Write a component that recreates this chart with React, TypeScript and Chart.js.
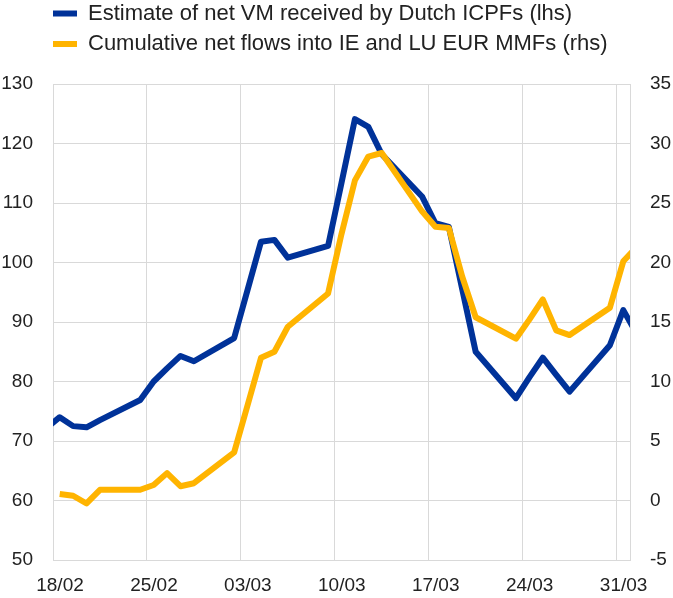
import React, { useEffect, useRef } from 'react';
import { Chart, registerables } from 'chart.js';

Chart.register(...registerables);

// Business days (dd/mm, 2020)
const dates = [
  '17/02', '18/02', '19/02', '20/02', '21/02',
  '24/02', '25/02', '26/02', '27/02', '28/02',
  '02/03', '03/03', '04/03', '05/03', '06/03',
  '09/03', '10/03', '11/03', '12/03', '13/03',
  '16/03', '17/03', '18/03', '19/03', '20/03',
  '23/03', '24/03', '25/03', '26/03', '27/03',
  '30/03', '31/03', '01/04',
];

// Estimate of net VM received by Dutch ICPFs (lhs)
const netVM = [
  72.2, 74.0, 72.5, 72.3, 73.5,
  76.9, 80.0, 82.2, 84.3, 83.4,
  87.3, 95.4, 103.5, 103.8, 100.8,
  102.8, 113.4, 124.1, 122.8, 118.2,
  111.1, 106.6, 106.0, 95.5, 85.0,
  77.2, 80.7, 84.0, 81.1, 78.3,
  86.1, 92.0, 88.0,
];

// Cumulative net flows into IE and LU EUR MMFs (rhs)
const mmfFlows: (number | null)[] = [
  null, 0.55, 0.4, -0.25, 0.9,
  0.9, 1.3, 2.3, 1.2, 1.45,
  4.05, 8.0, 12.0, 12.5, 14.6,
  17.4, 22.4, 26.9, 28.9, 29.2,
  24.3, 23.0, 22.9, 18.8, 15.4,
  13.6, 15.2, 16.9, 14.3, 13.9,
  16.2, 20.1, 21.3,
];

const seriesLabels = [
  'Estimate of net VM received by Dutch ICPFs (lhs)',
  'Cumulative net flows into IE and LU EUR MMFs (rhs)',
];

const xTickLabels = ['18/02', '25/02', '03/03', '10/03', '17/03', '24/03', '31/03'];
const xRangeLabels = ['18/02', '01/04'];
const leftAxis = { min: 50, max: 130, step: 10 };
const rightAxis = { min: -5, max: 35, step: 5 };

const BLUE = '#003299';
const YELLOW = '#FFB400';
const GRID = '#d9d9d9';
const TEXT = '#222222';
const FONT = "'Liberation Sans', Arial, Helvetica, sans-serif";

function dayOffset(label: string): number {
  const [d, m] = label.split('/').map(Number);
  return (Date.UTC(2020, m - 1, d) - Date.UTC(2020, 1, 18)) / 86400000;
}

const legendShift = {
  id: 'legendShift',
  afterLayout(chart: any) {
    const l = chart.legend;
    if (l) {
      l.left += 44.5;
      l.right += 44.5;
      l.top -= 19;
      l.bottom -= 19;
    }
  },
};

export default function App() {
  const canvasRef = useRef<HTMLCanvasElement | null>(null);

  useEffect(() => {
    if (!canvasRef.current) return;
    const xTickValues = xTickLabels.map(dayOffset);
    const toPoints = (vals: (number | null)[]) =>
      dates.map((d, i) => ({ x: dayOffset(d) + 0.5, y: vals[i] }));

    const chart = new Chart(canvasRef.current, {
      type: 'line',
      data: {
        datasets: [
          {
            label: seriesLabels[0],
            data: toPoints(netVM) as any,
            borderColor: BLUE,
            backgroundColor: BLUE,
            borderWidth: 6,
            pointRadius: 0,
            borderJoinStyle: 'round',
            borderCapStyle: 'butt',
            tension: 0,
            yAxisID: 'y',
            order: 1,
            clip: 0 as any,
          },
          {
            label: seriesLabels[1],
            data: toPoints(mmfFlows) as any,
            borderColor: YELLOW,
            backgroundColor: YELLOW,
            borderWidth: 6,
            pointRadius: 0,
            borderJoinStyle: 'round',
            borderCapStyle: 'butt',
            tension: 0,
            yAxisID: 'y1',
            order: 0,
            clip: 0 as any,
          },
        ],
      },
      options: {
        responsive: true,
        maintainAspectRatio: false,
        animation: false,
        layout: { padding: { top: 13, left: 0, right: 0, bottom: 0 } },
        plugins: {
          legend: {
            position: 'top',
            align: 'start',
            labels: {
              font: { family: FONT, size: 22 },
              color: TEXT,
              boxWidth: 24,
              boxHeight: 6,
              padding: 8.5,
              sort: (a: any, b: any) => a.datasetIndex - b.datasetIndex,
              generateLabels: (c: any) =>
                (Chart.defaults.plugins.legend.labels.generateLabels as any)(c).map((l: any) => ({
                  ...l,
                  lineWidth: 0,
                })),
            },
          },
          tooltip: { enabled: false },
        },
        scales: {
          x: {
            type: 'linear',
            min: dayOffset(xRangeLabels[0]),
            max: dayOffset(xRangeLabels[1]),
            afterBuildTicks: (s: any) => {
              s.ticks = xTickValues.map((v) => ({ value: v }));
            },
            afterFit: (s: any) => {
              s.height = 38;
            },
            ticks: {
              callback: (_v: any, i: number) => xTickLabels[i],
              labelOffset: 7,
              padding: 14,
              autoSkip: false,
              maxRotation: 0,
              font: { family: FONT, size: 19 },
              color: TEXT,
            },
            grid: { color: GRID, lineWidth: 1, drawTicks: false },
            border: { display: false },
          },
          y: {
            position: 'left',
            min: leftAxis.min,
            max: leftAxis.max,
            afterFit: (s: any) => {
              s.width = 53;
            },
            ticks: {
              stepSize: leftAxis.step,
              padding: 20,
              font: { family: FONT, size: 19 },
              color: TEXT,
            },
            grid: { color: GRID, lineWidth: 1, drawTicks: false },
            border: { display: true, color: GRID },
          },
          y1: {
            position: 'right',
            min: rightAxis.min,
            max: rightAxis.max,
            afterFit: (s: any) => {
              s.width = 43;
            },
            ticks: {
              stepSize: rightAxis.step,
              padding: 20,
              font: { family: FONT, size: 19 },
              color: TEXT,
            },
            grid: { drawOnChartArea: false, drawTicks: false },
            border: { display: true, color: GRID },
          },
        },
      } as any,
      plugins: [legendShift],
    });
    return () => chart.destroy();
  }, []);

  return (
    <div style={{ position: 'fixed', left: 0, top: 0, width: 673, height: 598, background: '#fff' }}>
      <canvas ref={canvasRef} style={{ display: 'block' }} />
    </div>
  );
}
